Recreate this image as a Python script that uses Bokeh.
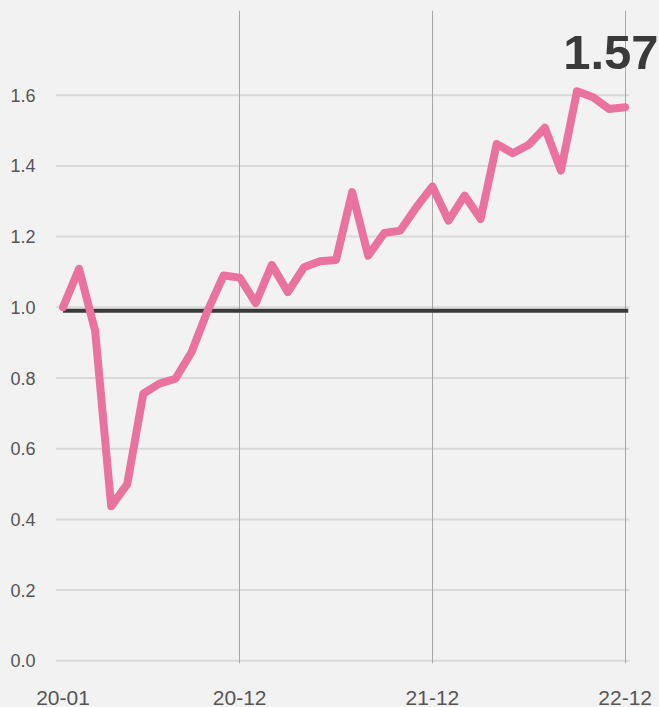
from bokeh.plotting import figure
from bokeh.models import Range1d, FixedTicker, CustomJSTickFormatter, Label, PrintfTickFormatter
from bokeh.embed import file_html
from bokeh.resources import INLINE

months = ["20-01", "20-02", "20-03", "20-04", "20-05", "20-06", "20-07", "20-08", "20-09", "20-10", "20-11", "20-12",
          "21-01", "21-02", "21-03", "21-04", "21-05", "21-06", "21-07", "21-08", "21-09", "21-10", "21-11", "21-12",
          "22-01", "22-02", "22-03", "22-04", "22-05", "22-06", "22-07", "22-08", "22-09", "22-10", "22-11", "22-12"]
values = [1.00, 1.109, 0.934, 0.437, 0.50, 0.756, 0.784, 0.798, 0.873, 0.99, 1.09, 1.084,
          1.012, 1.12, 1.043, 1.113, 1.13, 1.134, 1.326, 1.146, 1.21, 1.217, 1.283, 1.342,
          1.245, 1.316, 1.25, 1.462, 1.436, 1.46, 1.508, 1.387, 1.611, 1.594, 1.561, 1.566]
baseline_value = 0.99
x_tick_labels = ["20-01", "20-12", "21-12", "22-12"]
y_ticks = [0.0, 0.2, 0.4, 0.6, 0.8, 1.0, 1.2, 1.4, 1.6]

xs = list(range(len(months)))
x_tick_pos = [months.index(m) for m in x_tick_labels]
last_label = f"{round(values[-1], 2):.2f}"

BG = "#f2f2f2"
FONT = "Liberation Sans"

X_START, GRID_END, X_END = -0.467, 35.27, 37.137

p = figure(width=659, height=707, output_backend="svg", toolbar_location=None,
           x_range=Range1d(X_START, X_END), y_range=Range1d(-0.0076, 1.8396),
           min_border_left=55, min_border_right=0, min_border_top=10, min_border_bottom=44)
p.background_fill_color = BG
p.border_fill_color = BG
p.outline_line_color = None

# axes
p.xaxis.ticker = FixedTicker(ticks=x_tick_pos)
p.xaxis.formatter = CustomJSTickFormatter(args=dict(labels=months), code="return labels[Math.round(tick)] || '';")
p.yaxis.ticker = FixedTicker(ticks=y_ticks)
p.yaxis.formatter = PrintfTickFormatter(format="%.1f")
for ax in (p.xaxis[0], p.yaxis[0]):
    ax.axis_line_color = None
    ax.major_tick_line_color = None
    ax.minor_tick_line_color = None
    ax.major_label_text_font = FONT
    ax.major_label_text_color = "#555555"
p.xaxis.major_label_text_font_size = "21px"
p.xaxis.major_label_standoff = 21
p.yaxis.major_label_text_font_size = "18px"
p.yaxis.major_label_standoff = 14

# grids
p.xgrid.ticker = FixedTicker(ticks=x_tick_pos[1:])
p.xgrid.grid_line_color = "#a8a8a8"
p.xgrid.grid_line_width = 1
p.ygrid.grid_line_color = None
p.segment(x0=[X_START] * len(y_ticks), x1=[GRID_END] * len(y_ticks), y0=y_ticks, y1=y_ticks,
          line_color="#d9d9d9", line_width=2, level="underlay")

# baseline
p.line(x=[xs[0], GRID_END - 0.08], y=[baseline_value, baseline_value], line_color="#3a3a3a", line_width=4)

# series
p.line(x=xs, y=values, line_color="#e9729f", line_width=8, line_join="round", line_cap="round")

lbl = Label(x=xs[-1], y=values[-1], text=last_label, x_offset=-62, y_offset=55,
            text_font=FONT, text_font_style="bold", text_font_size="49px",
            text_color="#3a3a3a", text_align="left", text_baseline="alphabetic")
p.add_layout(lbl)

tmpl = """{% block preamble %}<style>html, body { margin: 0; padding: 0; background: #f2f2f2; }</style>{% endblock %}"""
open("out.html", "w").write(file_html(p, INLINE, template=tmpl))
